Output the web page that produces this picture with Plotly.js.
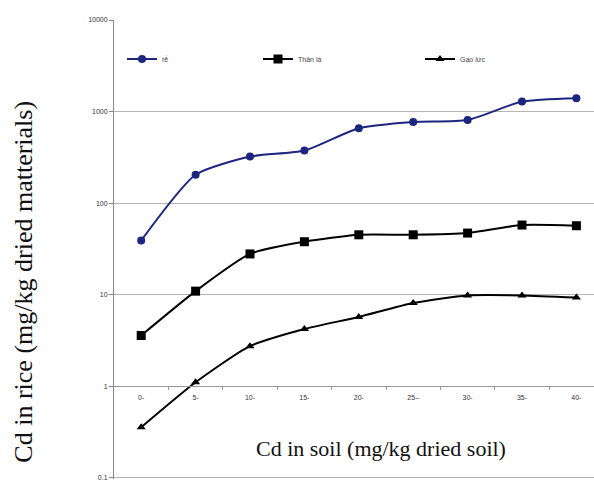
<!DOCTYPE html>
<html>
<head>
<meta charset="utf-8">
<script src="https://cdn.plot.ly/plotly-3.0.1.min.js"></script>
<style>html,body{margin:0;padding:0;background:#fff;}#chart{width:594px;height:480px;}</style>
</head>
<body>
<div id="chart"></div>
<script>
const categories = ["0-", "5-", "10-", "15-", "20-", "25–", "30-", "35-", "40-"];
const reValues = [39, 204, 322, 375, 658, 770, 810, 1285, 1400];
const thanLaValues = [3.57, 10.9, 27.8, 37.8, 45, 45, 47, 57.5, 56.5];
const gaoLucValues = [0.355, 1.1, 2.73, 4.2, 5.7, 8.1, 9.8, 9.8, 9.3];
const seriesNames = ["rễ", "Thân lá", "Gạo lức"];
const yTickVals = [0.1, 1, 10, 100, 1000, 10000];
const yTickText = ["0.1", "1", "10", "100", "1000", "10000"];

const xIdx = categories.map((c, i) => i);

const traces = [
  {x: xIdx, y: reValues, name: seriesNames[0], mode: "lines+markers", legend: "legend",
   line: {color: "#1c2580", width: 2, shape: "spline", smoothing: 0.6},
   marker: {symbol: "circle", size: 8, color: "#1c2580"}},
  {x: xIdx, y: thanLaValues, name: seriesNames[1], mode: "lines+markers", legend: "legend2",
   line: {color: "#000", width: 2, shape: "spline", smoothing: 0.6},
   marker: {symbol: "square", size: 9, color: "#000"}},
  {x: xIdx, y: gaoLucValues, name: seriesNames[2], mode: "lines+markers", legend: "legend3",
   line: {color: "#000", width: 2, shape: "spline", smoothing: 0.6},
   marker: {symbol: "triangle-up", size: 8, color: "#000"}}
];

const legendStyle = (xPos) => ({
  orientation: "h", x: xPos, y: 0.915, xanchor: "left", yanchor: "middle",
  font: {family: "Arial, Liberation Sans", size: 7, color: "#444"},
  bgcolor: "rgba(0,0,0,0)"
});

const plotW = 594 - 114;
const catW = 54.4;
const yRange = [-1.015, 4];
const oneFrac = (0 - yRange[0]) / (yRange[1] - yRange[0]);
const layout = {
  width: 594, height: 480,
  margin: {l: 114, r: 0, t: 20, b: 1},
  paper_bgcolor: "#fff", plot_bgcolor: "#fff",
  showlegend: true,
  legend: legendStyle(0.0167),
  legend2: legendStyle(0.3),
  legend3: legendStyle(0.6375),
  xaxis: {
    range: [-0.5, -0.5 + plotW / catW],
    tickvals: xIdx, ticktext: categories,
    anchor: "free", position: oneFrac,
    showline: true, linecolor: "#999", linewidth: 1,
    showgrid: false, zeroline: false,
    ticks: "",
    tickfont: {family: "Arial, Liberation Sans", size: 7, color: "#333"},
    ticklabelstandoff: 4
  },
  xaxis2: {
    range: [-0.5, -0.5 + plotW / catW],
    overlaying: "x", anchor: "free", position: oneFrac,
    tickvals: xIdx.map(i => i + 0.5), showticklabels: false,
    ticks: "outside", ticklen: 3, tickcolor: "#999",
    showline: false, showgrid: false, zeroline: false
  },
  yaxis: {
    type: "log", range: yRange,
    tickvals: yTickVals, ticktext: yTickText,
    showgrid: true, gridcolor: "#b5b5b5", gridwidth: 1,
    showline: true, linecolor: "#888", linewidth: 1,
    ticks: "outside", ticklen: 4, tickcolor: "#888",
    ticklabeloverflow: "allow",
    tickfont: {family: "Arial, Liberation Sans", size: 7, color: "#333"},
    zeroline: false
  },
  annotations: [
    {text: "Cd in rice (mg/kg dried matterials)", xref: "paper", yref: "paper",
     x: -0.1875, y: 0.43, xanchor: "center", yanchor: "middle", textangle: -90, showarrow: false,
     font: {family: "Liberation Serif, Times New Roman", size: 26, color: "#111"}},
    {text: "Cd in soil (mg/kg dried soil)", xref: "paper", yref: "paper",
     x: 0.556, y: 0.067, xanchor: "center", yanchor: "middle", showarrow: false,
     font: {family: "Liberation Serif, Times New Roman", size: 22, color: "#111"}}
  ]
};

traces.push({x: [0], y: [1], xaxis: "x2", mode: "markers", marker: {opacity: 0}, showlegend: false, hoverinfo: "skip"});

Plotly.newPlot("chart", traces, layout, {displayModeBar: false, staticPlot: true});
</script>
</body>
</html>
